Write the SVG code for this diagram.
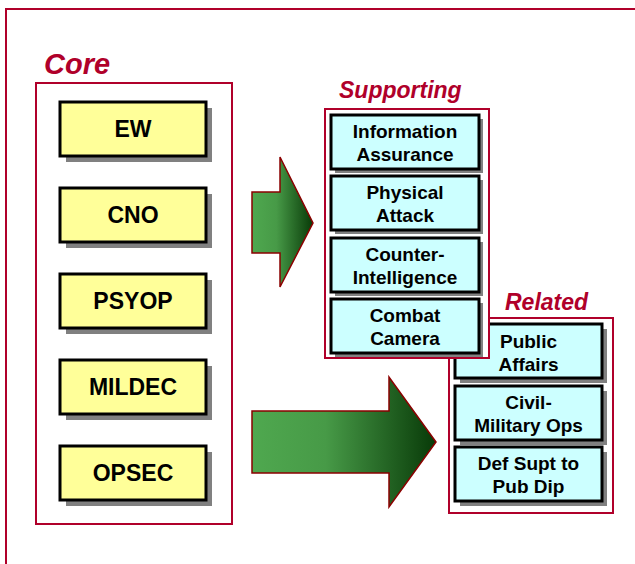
<svg xmlns="http://www.w3.org/2000/svg" width="635" height="564" viewBox="0 0 635 564">
<defs>
<linearGradient id="g" x1="0" y1="0" x2="1" y2="0">
<stop offset="0" stop-color="#4FA84F"/>
<stop offset="0.4" stop-color="#479A47"/>
<stop offset="1" stop-color="#083A08"/>
</linearGradient>
<style>
.frame{fill:#fff;stroke:#B0002A;stroke-width:2}
.title{font-family:"Liberation Sans",Arial,sans-serif;font-weight:bold;font-style:italic;fill:#B0002A}
.sh{fill:#808080}
.y{fill:#FFFF99;stroke:#000;stroke-width:3}
.c{fill:#CCFFFF;stroke:#000;stroke-width:3}
.t{font-family:"Liberation Sans",Arial,sans-serif;font-weight:bold;fill:#000;text-anchor:middle}
.big{font-size:23px}
.sm{font-size:19px}
.arr{fill:url(#g);stroke:#8B0000;stroke-width:1.5}
</style>
</defs>
<rect x="6" y="9" width="650" height="580" fill="#fff" stroke="#B0002A" stroke-width="2"/>

<g id="core">
<text class="title" x="44" y="74" font-size="29">Core</text>
<rect class="frame" x="36" y="83" width="196" height="441"/>
</g>
<g id="ew"><rect class="sh" x="66" y="108" width="146" height="54"/><rect class="y" x="60" y="102" width="146" height="54"/><text class="t big" x="133" y="137">EW</text></g>
<g id="cno"><rect class="sh" x="66" y="194" width="146" height="54"/><rect class="y" x="60" y="188" width="146" height="54"/><text class="t big" x="133" y="223">CNO</text></g>
<g id="psyop"><rect class="sh" x="66" y="280" width="146" height="54"/><rect class="y" x="60" y="274" width="146" height="54"/><text class="t big" x="133" y="309">PSYOP</text></g>
<g id="mildec"><rect class="sh" x="66" y="366" width="146" height="54"/><rect class="y" x="60" y="360" width="146" height="54"/><text class="t big" x="133" y="395">MILDEC</text></g>
<g id="opsec"><rect class="sh" x="66" y="452" width="146" height="54"/><rect class="y" x="60" y="446" width="146" height="54"/><text class="t big" x="133" y="481">OPSEC</text></g>

<g id="related">
<text class="title" x="505" y="310" font-size="23">Related</text>
<rect class="frame" x="449" y="318" width="164" height="195"/>
</g>
<g id="public-affairs"><rect class="sh" x="460" y="329" width="147" height="54"/><rect class="c" x="455" y="324" width="147" height="54"/><text class="t sm" x="528.5" y="348">Public</text><text class="t sm" x="528.5" y="371">Affairs</text></g>
<g id="civil-military"><rect class="sh" x="460" y="391" width="147" height="54"/><rect class="c" x="455" y="386" width="147" height="54"/><text class="t sm" x="528.5" y="409">Civil-</text><text class="t sm" x="528.5" y="432">Military Ops</text></g>
<g id="def-supt"><rect class="sh" x="460" y="452" width="147" height="54"/><rect class="c" x="455" y="447" width="147" height="54"/><text class="t sm" x="528.5" y="470">Def Supt to</text><text class="t sm" x="528.5" y="493">Pub Dip</text></g>

<g id="supporting">
<text class="title" x="339" y="98" font-size="23">Supporting</text>
<rect class="frame" x="325" y="109" width="164" height="249"/>
</g>
<g id="info-assurance"><rect class="sh" x="335" y="119" width="148" height="54"/><rect class="c" x="331" y="115" width="148" height="54"/><text class="t sm" x="405" y="138">Information</text><text class="t sm" x="405" y="161">Assurance</text></g>
<g id="physical-attack"><rect class="sh" x="335" y="180" width="148" height="54"/><rect class="c" x="331" y="176" width="148" height="54"/><text class="t sm" x="405" y="199">Physical</text><text class="t sm" x="405" y="222">Attack</text></g>
<g id="counter-intel"><rect class="sh" x="335" y="242" width="148" height="54"/><rect class="c" x="331" y="238" width="148" height="54"/><text class="t sm" x="405" y="261">Counter-</text><text class="t sm" x="405" y="284">Intelligence</text></g>
<g id="combat-camera"><rect class="sh" x="335" y="303" width="148" height="54"/><rect class="c" x="331" y="299" width="148" height="54"/><text class="t sm" x="405" y="322">Combat</text><text class="t sm" x="405" y="345">Camera</text></g>

<g id="connectors">
<polygon class="arr" points="252,192 280,192 280,157 313,223 280,287 280,253 252,253"/>
<polygon class="arr" points="252,411 389,411 389,377 436,442 389,507 389,473 252,473"/>
</g>
</svg>
